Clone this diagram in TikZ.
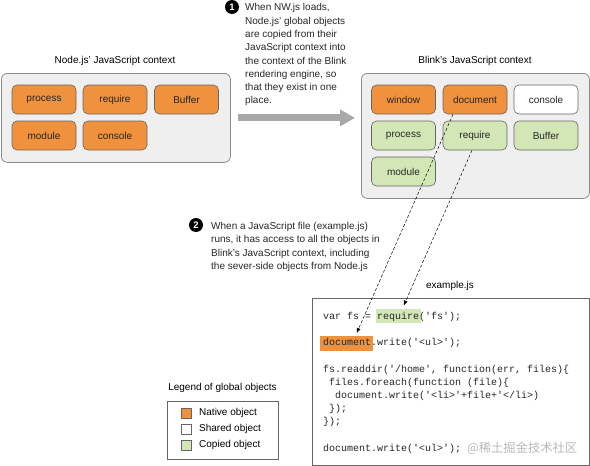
\documentclass[tikz,border=0pt]{standalone}
\usepackage{fontspec}
\setmainfont{Liberation Sans}
\setmonofont{Liberation Mono}
\newfontfamily\cjkfont{Noto Sans CJK SC}
\usetikzlibrary{arrows.meta}
\definecolor{native}{HTML}{F0913D}
\definecolor{copied}{HTML}{D3E6B6}
\definecolor{ctxfill}{HTML}{EFEFEF}
\definecolor{ctxline}{HTML}{8C8C8C}
\definecolor{arrowgray}{HTML}{A8A8A8}

\begin{document}
\begin{tikzpicture}[x=1pt, y=-1pt, font=\fontsize{10}{13.3}\selectfont,
	ctx/.style={draw=ctxline, fill=ctxfill, rounded corners=6pt, line width=0.8pt, anchor=north west},
	obj/.style={draw=black!60, rounded corners=5pt, minimum width=64pt, minimum height=29pt, inner sep=0pt, line width=0.6pt, text=black!85},
	nativeobj/.style={obj, fill=native},
	copiedobj/.style={obj, fill=copied},
	sharedobj/.style={obj, fill=white},
	stepnum/.style={circle, fill=black, text=white, inner sep=0pt, minimum size=14pt, font=\fontsize{9.5}{9.5}\selectfont\bfseries},
	note/.style={anchor=north west, align=left, inner sep=0pt, text=black!85},
	swatch/.style={draw=black!60, minimum size=10pt, inner sep=0pt},
	link/.style={dash pattern=on 3pt off 2pt, line width=0.5pt, shorten >=3pt, -{Latex[length=5pt,width=4pt]}}
]
	\useasboundingbox (0,0) rectangle (590,466);

	\node (nodectx) at (1,73) [ctx, minimum width=229pt, minimum height=89pt] {};
	\node (nodetitle) at (115,61) {Node.js’ JavaScript context};
		\node (nprocess) at (44,99.5) [nativeobj] {process};
		\node (nrequire) at (115,99.5) [nativeobj] {require};
		\node (nbuffer) at (186.5,99.5) [nativeobj] {Buffer};
		\node (nmodule) at (44,135.5) [nativeobj] {module};
		\node (nconsole) at (115,135.5) [nativeobj] {console};

	\node (blinkctx) at (361,73) [ctx, minimum width=228pt, minimum height=125pt] {};
	\node (blinktitle) at (475,61) {Blink’s JavaScript context};
		\node (bwindow) at (403.5,99.5) [nativeobj] {window};
		\node (bdocument) at (475,99.5) [nativeobj] {document};
		\node (bconsole) at (546,99.5) [sharedobj] {console};
		\node (bprocess) at (403.5,135.5) [copiedobj] {process};
		\node (brequire) at (475,135.5) [copiedobj] {require};
		\node (bbuffer) at (546,135.5) [copiedobj] {Buffer};
		\node (bmodule) at (403.5,171.5) [copiedobj] {module};

	\draw [arrowgray, line width=7pt, shorten <=7pt, shorten >=6pt, -{Triangle[length=15pt,width=16pt]}]
		(nodectx.east) -- (nodectx.east -| blinkctx.west);

	\node (one) at (232,7) [stepnum] {1};
	\node (onetext) at (245,1.3) [note] {\strut When NW.js loads,\\Node.js’ global objects\\are copied from their\\JavaScript context into\\the context of the Blink\\rendering engine, so\\that they exist in one\\place.};

	\node (two) at (196,225) [stepnum] {2};
	\node (twotext) at (211,220) [note] {\strut When a JavaScript file (example.js)\\runs, it has access to all the objects in\\Blink’s JavaScript context, including\\the sever-side objects from Node.js};

	\node (codetitle) at (450,286) {example.js};
	\node (codebox) at (312,298) [draw=black!60, line width=0.8pt, minimum width=277pt, minimum height=167pt, anchor=north west] {};
		\node (requirehl) at (398.5,315.5) [fill=copied, minimum width=45pt, minimum height=14pt, inner sep=0pt] {};
		\node (documenthl) at (346.5,343.5) [fill=native, minimum width=53pt, minimum height=15pt, inner sep=0pt] {};
		\node (code) at (323,309.8) [note, font=\ttfamily\fontsize{10}{13.2}\selectfont] {\strut var fs = require('fs');\\[13.2pt]
document.write('<ul>');\\[13.2pt]
fs.readdir('/home', function(err, files)\{\\
~files.foreach(function (file)\{\\
~~document.write('<li>'+file+'</li>)\\
~\});\\
\});\\[13.2pt]
document.write('<ul>');};
	\node (watermark) at (467,452) [anchor=base west, inner sep=0pt, text=black!28, font=\cjkfont\fontsize{12.3}{12.3}\selectfont] {@稀土掘金技术社区};

	\node (legendtitle) at (222.5,388) {Legend of global objects};
	\node (legend) at (167,401) [draw=black!60, line width=0.8pt, minimum width=111pt, minimum height=58pt, anchor=north west] {};
		\node (lnative) at (186,413) [swatch, fill=native] {};
		\node (lshared) at (186,429) [swatch, fill=white] {};
		\node (lcopied) at (186,445) [swatch, fill=copied] {};
		\node (lnativetext) at (199,413) [anchor=west, inner sep=0pt] {Native object};
		\node (lsharedtext) at (199,429) [anchor=west, inner sep=0pt] {Shared object};
		\node (lcopiedtext) at (199,445) [anchor=west, inner sep=0pt] {Copied object};

	\draw [link] ([xshift=-22pt]bdocument.south) -- ([xshift=9pt]documenthl.north);
	\draw [link] ([xshift=-3pt]brequire.south) -- ([xshift=4pt]requirehl.north);
\end{tikzpicture}
\end{document}
